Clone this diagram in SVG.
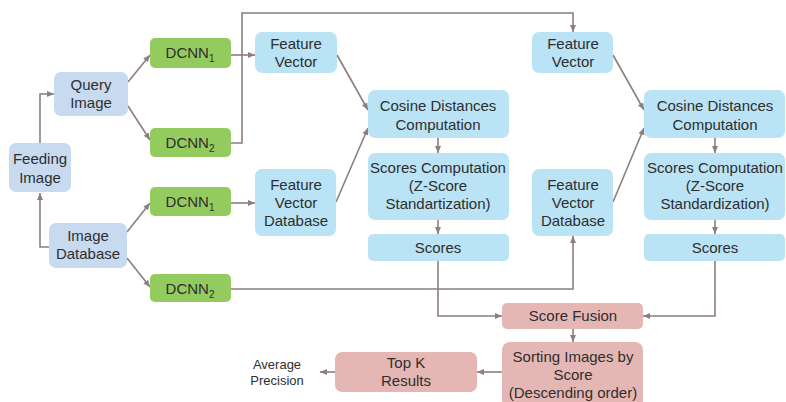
<svg xmlns="http://www.w3.org/2000/svg" width="786" height="402" viewBox="0 0 786 402">
<style>
text{font-family:"Liberation Sans",Arial,sans-serif;font-size:15px;fill:#2e2e2e;text-anchor:middle}
.blue{fill:#c7daef}
.cyan{fill:#bae3f5}
.green{fill:#93cb5e}
.pink{fill:#e5b7b4}
.c{fill:none;stroke:#8c7e7d;stroke-width:1.6;marker-end:url(#a)}
.n{fill:none;stroke:#8c7e7d;stroke-width:1.6}
.small{font-size:13px}
</style>
<defs>
<marker id="a" markerWidth="8" markerHeight="8" refX="7" refY="4" orient="auto" markerUnits="userSpaceOnUse">
<path d="M0,1 L7,4 L0,7 Z" fill="#8c7e7d"/>
</marker>
</defs>
<rect width="786" height="402" fill="#ffffff"/>
<g id="connectors">
<path class="c" d="M40,143 V94 H54"/>
<path class="c" d="M49,247 H40 V193"/>
<path class="c" d="M128,82 L150,55"/>
<path class="c" d="M128,106 L150,140"/>
<path class="c" d="M127,232 L150,203"/>
<path class="c" d="M127,258 L150,287"/>
<path class="c" d="M231,55 H255"/>
<path class="c" d="M231,143 H242 V13 H573 V32"/>
<path class="c" d="M231,203 H255"/>
<path class="c" d="M231,289 H573 V236"/>
<path class="c" d="M337,55 L368,110"/>
<path class="c" d="M336,202 L368,128"/>
<path class="c" d="M438,138 V153"/>
<path class="c" d="M438,220 V234"/>
<path class="c" d="M613,55 L644,110"/>
<path class="c" d="M613,202 L644,128"/>
<path class="c" d="M715,138 V153"/>
<path class="c" d="M715,220 V234"/>
<path class="c" d="M438,261 V316 H502"/>
<path class="c" d="M715,261 V316 H643"/>
<path class="c" d="M573,329 V342"/>
<path class="c" d="M502,372 H477"/>
<path class="c" d="M335,372 H320"/>
</g>
<g id="feeding-image"><rect class="blue" x="9" y="143" width="62" height="49" rx="7"/><text x="40" y="164">Feeding</text><text x="40" y="183">Image</text></g>
<g id="query-image"><rect class="blue" x="54" y="72" width="74" height="44" rx="7"/><text x="91" y="90">Query</text><text x="91" y="108">Image</text></g>
<g id="image-database"><rect class="blue" x="49" y="223" width="78" height="45" rx="7"/><text x="88" y="241">Image</text><text x="88" y="259">Database</text></g>
<g id="dcnn1-query"><rect class="green" x="150" y="38" width="81" height="30" rx="5"/><text x="190" y="58">DCNN<tspan font-size="10" dy="4">1</tspan></text></g>
<g id="dcnn2-query"><rect class="green" x="150" y="128" width="81" height="29" rx="5"/><text x="190" y="148">DCNN<tspan font-size="10" dy="4">2</tspan></text></g>
<g id="dcnn1-db"><rect class="green" x="150" y="187" width="81" height="29" rx="5"/><text x="190" y="207">DCNN<tspan font-size="10" dy="4">1</tspan></text></g>
<g id="dcnn2-db"><rect class="green" x="150" y="274" width="81" height="28" rx="5"/><text x="190" y="294">DCNN<tspan font-size="10" dy="4">2</tspan></text></g>
<g id="feature-vector-1"><rect class="cyan" x="255" y="32" width="82" height="41" rx="7"/><text x="296" y="49">Feature</text><text x="296" y="67">Vector</text></g>
<g id="feature-vector-db-1"><rect class="cyan" x="255" y="169" width="81" height="67" rx="7"/><text x="296" y="190">Feature</text><text x="296" y="208">Vector</text><text x="296" y="226">Database</text></g>
<g id="cosine-1"><rect class="cyan" x="368" y="90" width="141" height="48" rx="7"/><text x="438" y="111">Cosine Distances</text><text x="438" y="130">Computation</text></g>
<g id="scores-comp-1"><rect class="cyan" x="368" y="153" width="141" height="67" rx="7"/><text x="438" y="173">Scores Computation</text><text x="438" y="191">(Z-Score</text><text x="438" y="209">Standartization)</text></g>
<g id="scores-1"><rect class="cyan" x="368" y="234" width="141" height="27" rx="5"/><text x="438" y="253">Scores</text></g>
<g id="feature-vector-2"><rect class="cyan" x="532" y="32" width="81" height="41" rx="7"/><text x="573" y="49">Feature</text><text x="573" y="67">Vector</text></g>
<g id="feature-vector-db-2"><rect class="cyan" x="532" y="169" width="81" height="67" rx="7"/><text x="573" y="190">Feature</text><text x="573" y="208">Vector</text><text x="573" y="226">Database</text></g>
<g id="cosine-2"><rect class="cyan" x="644" y="90" width="141" height="48" rx="7"/><text x="715" y="111">Cosine Distances</text><text x="715" y="130">Computation</text></g>
<g id="scores-comp-2"><rect class="cyan" x="644" y="153" width="141" height="67" rx="7"/><text x="715" y="173">Scores Computation</text><text x="715" y="191">(Z-Score</text><text x="715" y="209">Standardization)</text></g>
<g id="scores-2"><rect class="cyan" x="644" y="234" width="141" height="27" rx="5"/><text x="715" y="253">Scores</text></g>
<g id="score-fusion"><rect class="pink" x="502" y="303" width="141" height="26" rx="5"/><text x="573" y="321">Score Fusion</text></g>
<g id="sorting"><rect class="pink" x="502" y="342" width="141" height="66" rx="8"/><text x="573" y="362">Sorting Images by</text><text x="573" y="380">Score</text><text x="573" y="398">(Descending order)</text></g>
<g id="top-k"><rect class="pink" x="335" y="352" width="142" height="40" rx="7"/><text x="406" y="368">Top K</text><text x="406" y="386">Results</text></g>
<g id="average-precision"><text class="small" x="277" y="369">Average</text><text class="small" x="277" y="385">Precision</text></g>
</svg>
